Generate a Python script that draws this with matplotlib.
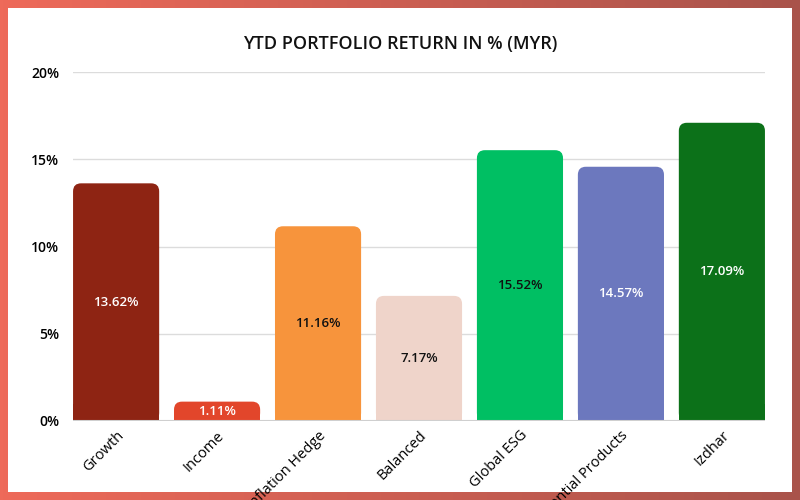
import numpy as np
import matplotlib
matplotlib.use("Agg")
import matplotlib.pyplot as plt
from matplotlib.patches import FancyBboxPatch, Rectangle

funds = ["Growth", "Income", "Inflation Hedge", "Balanced",
         "Global ESG", "Essential Products", "Izdhar"]
returns = [13.62, 1.11, 11.16, 7.17, 15.52, 14.57, 17.09]
colors = ["#8E2413", "#E2462B", "#F7943C", "#EFD4CA",
          "#00BF63", "#6C78BE", "#0C7119"]
label_colors = ["white", "white", "#111111", "#111111",
                "#111111", "white", "white"]
yticks = [0, 5, 10, 15, 20]

plt.rcParams['font.family'] = ['Open Sans', 'DejaVu Sans']

fig = plt.figure(figsize=(8, 5), dpi=100)

# gradient frame + white panel
bg = fig.add_axes([0, 0, 1, 1], zorder=-5)
grad = np.linspace(0, 1, 256).reshape(1, -1)
cmap = matplotlib.colors.LinearSegmentedColormap.from_list("frame", ["#EE6A5A", "#A9534A"])
bg.imshow(grad, aspect="auto", cmap=cmap, extent=[0, 1, 0, 1])
bg.add_patch(Rectangle((8 / 800, 8 / 500), 784 / 800, 484 / 500,
                       facecolor="white", edgecolor="none"))
bg.set_xlim(0, 1)
bg.set_ylim(0, 1)
bg.axis("off")

ax = fig.add_axes([73 / 800, 1 - 421 / 500, 692 / 800, 349 / 500])
ax.patch.set_alpha(0)
x = np.arange(len(funds))
width = 0.853
ax.set_xlim(-0.427, len(funds) - 1 + 0.427)
ax.set_ylim(0, 20)

# rounded-top bars
px_x = 692 / (len(funds) - 1 + 0.854)
px_y = 349 / 20
r = 8 / px_x
for i, v in enumerate(returns):
    box = FancyBboxPatch((x[i] - width / 2, 0), width, v,
                         boxstyle=f"round,pad=0,rounding_size={r}",
                         mutation_aspect=px_x / px_y,
                         facecolor=colors[i], edgecolor="none", zorder=3)
    ax.add_patch(box)
    ax.add_patch(Rectangle((x[i] - width / 2, 0), width, min(v / 2, 1),
                           facecolor=colors[i], edgecolor="none", zorder=3))
    ax.text(x[i], v / 2, f"{v:.2f}%", ha="center", va="center",
            color=label_colors[i], fontsize=9.5, fontweight="semibold", zorder=4)

for t in yticks[1:]:
    ax.axhline(t, color="#DCDCDC", linewidth=1, zorder=1)
ax.axhline(0, color="#CFCFCF", linewidth=1.5, zorder=5)

ax.set_yticks(yticks)
ax.set_yticklabels([f"{t}%" for t in yticks], fontsize=10, fontweight="semibold")
ax.set_xticks(x)
ax.set_xticklabels(funds, rotation=45, ha="right", va="top",
                   rotation_mode="anchor", fontsize=10.5, fontweight="medium")
ax.tick_params(length=0)
ax.tick_params(axis="y", pad=10)
ax.tick_params(axis="x", pad=5)
for s in ax.spines.values():
    s.set_visible(False)

fig.text(0.5, 1 - 44 / 500, "YTD PORTFOLIO RETURN IN % (MYR)", ha="center",
         va="center", fontsize=13, fontweight="semibold", color="#111111")

fig.savefig("out.png", dpi=100)
